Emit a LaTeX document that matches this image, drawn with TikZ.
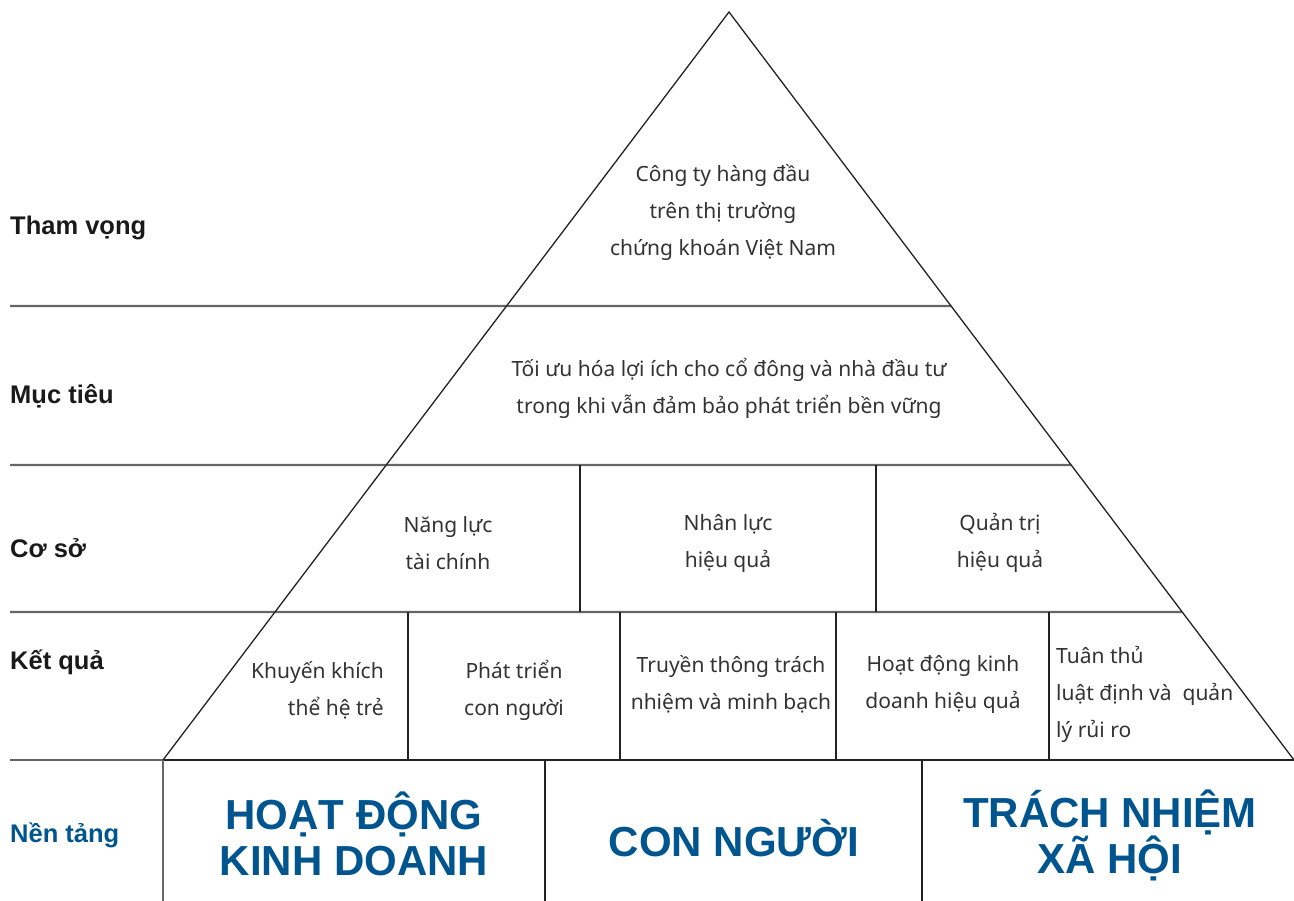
\documentclass[tikz,border=0pt]{standalone}
\usepackage{fontspec}
\setmainfont{Noto Sans}
\newfontfamily\arialb{Liberation Sans}[BoldFont={Liberation Sans Bold}]
\usetikzlibrary{calc}
\definecolor{txt}{HTML}{333333}
\definecolor{lbl}{HTML}{1A1A1A}
\definecolor{blu}{HTML}{00558F}
\definecolor{hline}{HTML}{666666}
\definecolor{pline}{HTML}{222222}
\begin{document}
\begin{tikzpicture}[x=1pt,y=-1pt,
  side/.style={draw=pline,line width=1.3pt},
  hrule/.style={draw=hline,line width=2.4pt},
  vrule/.style={draw=pline,line width=2pt},
  lab/.style={anchor=base west,inner sep=0,text=lbl,font=\arialb\bfseries\fontsize{25.5}{30}\selectfont},
  ptext/.style={inner sep=0,text=txt,align=center,font=\fontsize{21}{37}\selectfont},
  big/.style={inner sep=0,text=blu,align=center,font=\arialb\bfseries\fontsize{42}{46}\selectfont}]
\useasboundingbox (0,0) rectangle (1294,901);
\coordinate (A) at (729,12);
\coordinate (L) at (163,760);
\coordinate (R) at (1294,760);
\coordinate (L1) at ($(A)!0.39305!(L)$);
\coordinate (R1) at ($(A)!0.39305!(R)$);
\coordinate (L2) at ($(A)!0.60562!(L)$);
\coordinate (R2) at ($(A)!0.60562!(R)$);
\coordinate (L3) at ($(A)!0.80214!(L)$);
\coordinate (R3) at ($(A)!0.80214!(R)$);
% horizontal rules
\draw[hrule] (10,306) -- (R1);
\draw[hrule] (10,465) -- (R2);
\draw[hrule] (10,612) -- (R3);
\draw[hrule] (10,760) -- (L);
\draw[draw=pline,line width=2.2pt] (L) -- (R);
% pyramid sides
\draw[side] (L) -- (A) -- (R);
% vertical dividers
\draw[vrule] (580,465) -- (580,612);
\draw[vrule] (876,465) -- (876,612);
\draw[vrule] (408,612) -- (408,760);
\draw[vrule] (620,612) -- (620,760);
\draw[vrule] (836,612) -- (836,760);
\draw[vrule] (1049,612) -- (1049,760);
\draw[draw=hline,line width=2pt] (L) -- (163,901);
\draw[vrule] (545,760) -- (545,901);
\draw[vrule] (922,760) -- (922,901);
% left labels
\node[lab] (l1) at (10,235) {Tham vọng};
\node[lab] (l2) at (10,403) {Mục tiêu};
\node[lab] (l3) at (10,557) {Cơ sở};
\node[lab] (l4) at (10,669) {Kết quả};
\node[lab,text=blu] (l5) at (10,842) {Nền tảng};
% pyramid texts
\node[ptext] (t1) at (723,212) {Công ty hàng đầu\\trên thị trường\\chứng khoán Việt Nam};
\node[ptext] (t2) at (729,388) {Tối ưu hóa lợi ích cho cổ đông và nhà đầu tư\\trong khi vẫn đảm bảo phát triển bền vững};
\node[ptext] (t3) at (448,543) {Năng lực\\tài chính};
\node[ptext] (t4) at (728,543) {Nhân lực\\hiệu quả};
\node[ptext] (t5) at (1000,543) {Quản trị\\hiệu quả};
\node[ptext,align=right,anchor=east] (t6) at (384,690) {Khuyến khích\\thể hệ trẻ};
\node[ptext] (t7) at (514,690) {Phát triển\\con người};
\node[ptext] (t8) at (731,684) {Truyền thông trách\\nhiệm và minh bạch};
\node[ptext] (t9) at (943,684) {Hoạt động kinh\\doanh hiệu quả};
\node[ptext,align=left,anchor=west] (t10) at (1056,694) {Tuân thủ\\luật định và\ \ quản\\lý rủi ro};
% foundation
\node[big] (b1) at (354,834) {HOẠT ĐỘNG\\KINH DOANH};
\node[big] (b2) at (734,838) {CON NGƯỜI};
\node[big] (b3) at (1110,835) {TRÁCH NHIỆM\\XÃ HỘI};
\end{tikzpicture}
\end{document}
